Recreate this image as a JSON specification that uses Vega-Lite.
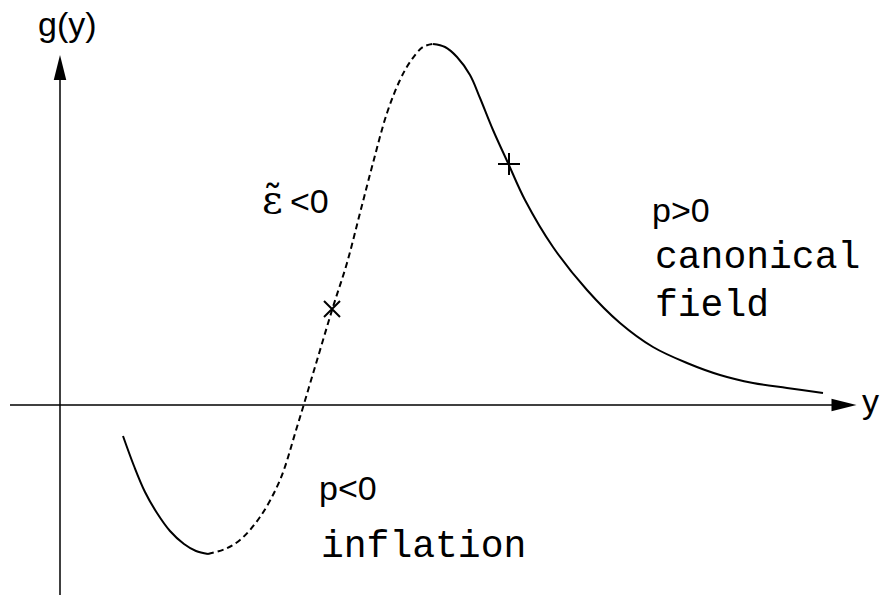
{
  "$schema": "https://vega.github.io/schema/vega-lite/v6.json",
  "width": 881,
  "height": 598,
  "padding": 0,
  "autosize": {"type": "fit", "contains": "padding"},
  "background": "white",
  "config": {"view": {"stroke": null}},
  "datasets": {
    "curve": [
      {"branch": "left", "y_": 0.63, "g": -0.31},
      {"branch": "left", "y_": 0.74, "g": -0.61},
      {"branch": "left", "y_": 0.85, "g": -0.87},
      {"branch": "left", "y_": 0.97, "g": -1.08},
      {"branch": "left", "y_": 1.10, "g": -1.26},
      {"branch": "left", "y_": 1.24, "g": -1.39},
      {"branch": "left", "y_": 1.36, "g": -1.46},
      {"branch": "left", "y_": 1.48, "g": -1.49},
      {"branch": "middle", "y_": 1.48, "g": -1.49},
      {"branch": "middle", "y_": 1.65, "g": -1.44},
      {"branch": "middle", "y_": 1.80, "g": -1.35},
      {"branch": "middle", "y_": 2.00, "g": -1.12},
      {"branch": "middle", "y_": 2.20, "g": -0.75},
      {"branch": "middle", "y_": 2.37, "g": -0.22},
      {"branch": "middle", "y_": 2.55, "g": 0.38},
      {"branch": "middle", "y_": 2.73, "g": 0.98},
      {"branch": "middle", "y_": 2.87, "g": 1.42},
      {"branch": "middle", "y_": 3.00, "g": 1.92},
      {"branch": "middle", "y_": 3.13, "g": 2.42},
      {"branch": "middle", "y_": 3.27, "g": 2.92},
      {"branch": "middle", "y_": 3.40, "g": 3.25},
      {"branch": "middle", "y_": 3.50, "g": 3.43},
      {"branch": "middle", "y_": 3.63, "g": 3.58},
      {"branch": "middle", "y_": 3.73, "g": 3.61},
      {"branch": "right", "y_": 3.73, "g": 3.61},
      {"branch": "right", "y_": 3.85, "g": 3.58},
      {"branch": "right", "y_": 3.97, "g": 3.48},
      {"branch": "right", "y_": 4.10, "g": 3.30},
      {"branch": "right", "y_": 4.20, "g": 3.07},
      {"branch": "right", "y_": 4.33, "g": 2.75},
      {"branch": "right", "y_": 4.48, "g": 2.42},
      {"branch": "right", "y_": 4.65, "g": 2.05},
      {"branch": "right", "y_": 4.93, "g": 1.58},
      {"branch": "right", "y_": 5.27, "g": 1.15},
      {"branch": "right", "y_": 5.60, "g": 0.82},
      {"branch": "right", "y_": 5.93, "g": 0.58},
      {"branch": "right", "y_": 6.27, "g": 0.42},
      {"branch": "right", "y_": 6.60, "g": 0.30},
      {"branch": "right", "y_": 6.93, "g": 0.22},
      {"branch": "right", "y_": 7.27, "g": 0.17},
      {"branch": "right", "y_": 7.63, "g": 0.12}
    ],
    "axes": [
      {"axis": "g", "x1": 0, "y1": -1.90, "x2": 0, "y2": 3.25},
      {"axis": "y", "x1": -0.50, "y1": 0, "x2": 7.72, "y2": 0}
    ],
    "heads": [
      {"axis": "g", "x": 0, "y": 3.375},
      {"axis": "y", "x": 7.84, "y": 0}
    ],
    "points": [
      {"kind": "times", "y_": 2.72, "g": 0.96},
      {"kind": "plus", "y_": 4.49, "g": 2.41}
    ],
    "labels": [
      {"role": "math", "text": "g(y)", "x": -0.22, "y": 3.69},
      {"role": "math", "text": "y", "x": 8.02, "y": -0.08},
      {"role": "eps", "text": "ε̃", "x": 2.02, "y": 1.92},
      {"role": "math", "text": "<0", "x": 2.30, "y": 1.92},
      {"role": "math", "text": "p>0", "x": 5.92, "y": 1.83},
      {"role": "word", "text": "canonical", "x": 5.95, "y": 1.37},
      {"role": "word", "text": "field", "x": 5.95, "y": 0.89},
      {"role": "math", "text": "p<0", "x": 2.59, "y": -0.95},
      {"role": "word", "text": "inflation", "x": 2.61, "y": -1.52}
    ]
  },
  "layer": [
    {
      "data": {"name": "axes"},
      "mark": {"type": "rule", "color": "black", "strokeWidth": 1.5},
      "encoding": {
        "x": {"field": "x1", "type": "quantitative", "scale": {"domain": [-0.60, 8.21], "nice": false, "zero": false}, "axis": null},
        "y": {"field": "y1", "type": "quantitative", "scale": {"domain": [-1.93, 4.05], "nice": false, "zero": false}, "axis": null},
        "x2": {"field": "x2"},
        "y2": {"field": "y2"}
      }
    },
    {
      "data": {"name": "heads"},
      "transform": [{"filter": "datum.axis === 'g'"}],
      "mark": {"type": "point", "shape": "M0,-1L0.5,1L-0.5,1Z", "filled": true, "color": "black", "opacity": 1, "size": 625, "strokeWidth": 0},
      "encoding": {
        "x": {"field": "x", "type": "quantitative"},
        "y": {"field": "y", "type": "quantitative"}
      }
    },
    {
      "data": {"name": "heads"},
      "transform": [{"filter": "datum.axis === 'y'"}],
      "mark": {"type": "point", "shape": "M1,0L-1,-0.5L-1,0.5Z", "filled": true, "color": "black", "opacity": 1, "size": 625, "strokeWidth": 0},
      "encoding": {
        "x": {"field": "x", "type": "quantitative"},
        "y": {"field": "y", "type": "quantitative"}
      }
    },
    {
      "data": {"name": "curve"},
      "transform": [{"filter": "datum.branch !== 'middle'"}],
      "mark": {"type": "line", "color": "black", "strokeWidth": 2, "interpolate": "catmull-rom"},
      "encoding": {
        "x": {"field": "y_", "type": "quantitative"},
        "y": {"field": "g", "type": "quantitative"},
        "detail": {"field": "branch"}
      }
    },
    {
      "data": {"name": "curve"},
      "transform": [{"filter": "datum.branch === 'middle'"}],
      "mark": {"type": "line", "color": "black", "strokeWidth": 2, "strokeDash": [6, 4], "interpolate": "catmull-rom"},
      "encoding": {
        "x": {"field": "y_", "type": "quantitative"},
        "y": {"field": "g", "type": "quantitative"}
      }
    },
    {
      "data": {"name": "points"},
      "transform": [{"filter": "datum.kind === 'times'"}],
      "mark": {"type": "point", "shape": "M-1,-1L1,1M1,-1L-1,1", "filled": false, "color": "black", "opacity": 1, "size": 256, "strokeWidth": 2},
      "encoding": {
        "x": {"field": "y_", "type": "quantitative"},
        "y": {"field": "g", "type": "quantitative"}
      }
    },
    {
      "data": {"name": "points"},
      "transform": [{"filter": "datum.kind === 'plus'"}],
      "mark": {"type": "point", "shape": "M-1,0L1,0M0,-1L0,1", "filled": false, "color": "black", "opacity": 1, "size": 484, "strokeWidth": 2},
      "encoding": {
        "x": {"field": "y_", "type": "quantitative"},
        "y": {"field": "g", "type": "quantitative"}
      }
    },
    {
      "data": {"name": "labels"},
      "transform": [{"filter": "datum.role === 'math'"}],
      "mark": {"type": "text", "align": "left", "baseline": "alphabetic", "font": "Liberation Sans", "fontSize": 34, "color": "black"},
      "encoding": {
        "x": {"field": "x", "type": "quantitative"},
        "y": {"field": "y", "type": "quantitative"},
        "text": {"field": "text"}
      }
    },
    {
      "data": {"name": "labels"},
      "transform": [{"filter": "datum.role === 'eps'"}],
      "mark": {"type": "text", "align": "left", "baseline": "alphabetic", "font": "DejaVu Serif", "fontSize": 40, "color": "black"},
      "encoding": {
        "x": {"field": "x", "type": "quantitative"},
        "y": {"field": "y", "type": "quantitative"},
        "text": {"field": "text"}
      }
    },
    {
      "data": {"name": "labels"},
      "transform": [{"filter": "datum.role === 'word'"}],
      "mark": {"type": "text", "align": "left", "baseline": "alphabetic", "font": "Liberation Mono", "fontSize": 38, "color": "black"},
      "encoding": {
        "x": {"field": "x", "type": "quantitative"},
        "y": {"field": "y", "type": "quantitative"},
        "text": {"field": "text"}
      }
    }
  ]
}
